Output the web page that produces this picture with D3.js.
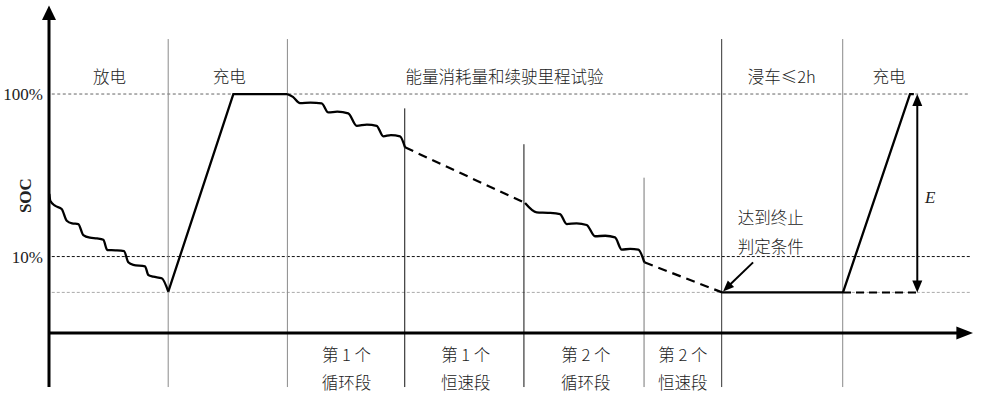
<!DOCTYPE html>
<html><head><meta charset="utf-8">
<script src="https://cdn.jsdelivr.net/npm/d3@7"></script>
<style>
html,body{margin:0;padding:0;background:#fff;}
svg{display:block;}
.cn{font-family:"Noto Sans CJK SC","Noto Sans",sans-serif;font-size:16.5px;fill:#222;font-weight:300;}
.serif{font-family:"Liberation Serif","DejaVu Serif",serif;}
</style></head>
<body>
<svg id="chart" width="981" height="400"></svg>
<script>
// ---- data (schematic units: t = time, v = SOC level) ----
const xDomain = [0, 100];
const yDomain = [-23, 137];
const yTicks = [100, 32];
const yTickLabels = ["100%", "10%"];
const endLevel = 17;             // termination SOC level (grey dotted line)

const phaseBounds = [12.9, 25.8, 38.5, 51.4, 64.4, 72.8, 85.9];
const phaseTops   = [123, 123, 94, 79, 65, 123, 123];
const phaseColors = ["#8a8a8a","#8a8a8a","#111","#111","#777","#333","#8a8a8a"];

const topLabels = ["放电", "充电", "能量消耗量和续驶里程试验", "浸车≤2h", "充电"];
const topLabelT = [6.55, 19.5, 49.3, 79.3, 90.9];

const bottomLine1 = ["第 1 个", "第 1 个", "第 2 个", "第 2 个"];
const bottomLine2 = ["循环段", "恒速段", "循环段", "恒速段"];
const bottomLabelT = [32.2, 45.1, 58.1, 68.6];

// discharge phase (wavy steps)
const dischargeT = [0.03, 0.15, 0.65, 1.37, 1.92, 2.5, 3.17, 3.71, 4.44, 5.2, 5.88, 6.31, 7.2, 8.12, 8.58, 9.12, 10.39, 10.75, 11.29, 12.2, 12.91];
const dischargeV = [58.2, 55.2, 53.3, 51.9, 47.0, 45.9, 45.6, 41.0, 39.9, 39.6, 39.0, 34.7, 34.6, 34.3, 29.6, 28.5, 27.9, 24.3, 23.6, 22.9, 17.3];
// first charge
const charge1T = [12.91, 19.95, 25.76];
const charge1V = [17.3, 100, 100];
// cycle segment 1
const cycle1T = [25.76, 26.4, 27.16, 28.3, 29.51, 30.23, 31.2, 32.39, 33.3, 34.4, 35.46, 36.18, 37.0, 37.99, 38.53];
const cycle1V = [100, 98.8, 96.2, 96.4, 96.1, 92.3, 92.6, 91.9, 86.7, 87.2, 86.7, 82.3, 82.8, 82.3, 77.7];
// constant speed segment 1 (dashed)
const const1T = [38.53, 51.52];
const const1V = [77.7, 54.4];
// cycle segment 2
const cycle2T = [51.52, 52.78, 54.0, 55.3, 56.03, 57.1, 58.19, 59.09, 60.2, 61.26, 61.98, 62.9, 63.78, 64.43];
const cycle2V = [54.4, 50.5, 50.3, 49.8, 45.6, 45.9, 45.2, 40.5, 40.7, 40.0, 34.9, 35.2, 34.9, 29.6];
// constant speed segment 2 (dashed)
const const2T = [64.43, 72.84];
const const2V = [29.6, endLevel];
// soak
const soakT = [72.84, 85.93];
const soakV = [endLevel, endLevel];
// final charge
const charge2T = [85.93, 93.18, 93.6];
const charge2V = [endLevel, 100, 100];
const baseDashT = [85.93, 94.3];
const eArrowT = 93.97;

// ---- drawing ----
const svg = d3.select("#chart");
const x = d3.scaleLinear().domain(xDomain).range([49, 973]);
const y = d3.scaleLinear().domain(yDomain).range([388, 5.6]);

const pts = (T, V) => T.map((t, i) => [t, V[i]]);
const line = d3.line().x(d => x(d[0])).y(d => y(d[1]));
const smooth = d3.line().x(d => x(d[0])).y(d => y(d[1])).curve(d3.curveMonotoneX);

// horizontal reference lines
const refs = [
  {v: yTicks[0], color: "#666", dash: "3,2.5"},
  {v: yTicks[1], color: "#111", dash: "3,2"},
  {v: endLevel, color: "#aaa", dash: "3,2"}
];
svg.selectAll("line.ref").data(refs).join("line")
  .attr("x1", x(0.3)).attr("x2", x(99.7))
  .attr("y1", d => y(d.v)).attr("y2", d => y(d.v))
  .attr("stroke", d => d.color).attr("stroke-width", 1)
  .attr("stroke-dasharray", d => d.dash);

// phase dividers
svg.selectAll("line.div").data(phaseBounds).join("line")
  .attr("x1", d => x(d)).attr("x2", d => x(d))
  .attr("y1", (d, i) => y(phaseTops[i])).attr("y2", y(-22.6))
  .attr("stroke", (d, i) => phaseColors[i]).attr("stroke-width", 1);

// axes
const yAxis = d3.axisLeft(y).tickValues(yTicks).tickSize(0).tickPadding(6)
  .tickFormat((d, i) => yTickLabels[i]);
const ga = svg.append("g").attr("transform", `translate(${x(0)},0)`).call(yAxis);
ga.select(".domain").remove();
ga.selectAll("text").attr("class", "serif").style("font-size", "17px").attr("fill", "#222");

svg.append("line").attr("x1", x(0)).attr("x2", x(0)).attr("y1", y(-22.6)).attr("y2", y(132))
  .attr("stroke", "#000").attr("stroke-width", 3);
svg.append("path").attr("d", `M${x(0)-7},${y(131)} L${x(0)},${y(137)} L${x(0)+7},${y(131)} Z`).attr("fill", "#000");
svg.append("line").attr("x1", x(0)).attr("x2", x(98.5)).attr("y1", y(0)).attr("y2", y(0))
  .attr("stroke", "#000").attr("stroke-width", 3);
svg.append("path").attr("d", `M${x(98.2)},${y(0)-6.5} L${x(100)},${y(0)} L${x(98.2)},${y(0)+6.5} Z`).attr("fill", "#000");

svg.append("text").attr("class", "serif")
  .attr("transform", `translate(31,${y(57.5)}) rotate(-90)`)
  .attr("text-anchor", "middle").style("font-size", "17px").style("font-weight", "bold")
  .attr("fill", "#222").text("SOC");

// curve segments
const solid = [pts(dischargeT, dischargeV), pts(cycle1T, cycle1V), pts(cycle2T, cycle2V)];
svg.selectAll("path.wavy").data(solid).join("path")
  .attr("d", smooth).attr("fill", "none").attr("stroke", "#000").attr("stroke-width", 2.3)
  .attr("stroke-linejoin", "round");
const straight = [pts(charge1T, charge1V), pts(soakT, soakV), pts(charge2T, charge2V)];
svg.selectAll("path.str").data(straight).join("path")
  .attr("d", line).attr("fill", "none").attr("stroke", "#000").attr("stroke-width", 2.3);
const dashed = [pts(const1T, const1V), pts(const2T, const2V)];
svg.selectAll("path.dsh").data(dashed).join("path")
  .attr("d", line).attr("fill", "none").attr("stroke", "#000").attr("stroke-width", 2.2)
  .attr("stroke-dasharray", "9,6");
svg.append("path").attr("d", line(pts(baseDashT, [endLevel, endLevel])))
  .attr("fill", "none").attr("stroke", "#000").attr("stroke-width", 2).attr("stroke-dasharray", "8,5");

// E double arrow
const ex = x(eArrowT);
svg.append("line").attr("x1", ex).attr("x2", ex).attr("y1", y(100) + 10).attr("y2", y(endLevel) - 10)
  .attr("stroke", "#000").attr("stroke-width", 2);
svg.append("path").attr("d", `M${ex-5},${y(100)+12} L${ex},${y(100)} L${ex+5},${y(100)+12} Z`).attr("fill", "#000");
svg.append("path").attr("d", `M${ex-5},${y(endLevel)-12} L${ex},${y(endLevel)} L${ex+5},${y(endLevel)-12} Z`).attr("fill", "#000");
svg.append("text").attr("class", "serif").attr("x", ex + 13).attr("y", y(57) + 6)
  .attr("text-anchor", "middle").style("font-size", "17px").style("font-style", "italic")
  .attr("fill", "#222").text("E");

// top labels
svg.selectAll("text.top").data(topLabels).join("text").attr("class", "cn")
  .attr("x", (d, i) => x(topLabelT[i])).attr("y", 83).attr("text-anchor", "middle").text(d => d);

// bottom labels
svg.selectAll("text.b1").data(bottomLine1).join("text").attr("class", "cn")
  .attr("x", (d, i) => x(bottomLabelT[i])).attr("y", 361).attr("text-anchor", "middle").text(d => d);
svg.selectAll("text.b2").data(bottomLine2).join("text").attr("class", "cn")
  .attr("x", (d, i) => x(bottomLabelT[i])).attr("y", 389).attr("text-anchor", "middle").text(d => d);

// annotation
const annoT = 78.1;
svg.append("text").attr("class", "cn").attr("x", x(annoT)).attr("y", 224).attr("text-anchor", "middle").text("达到终止");
svg.append("text").attr("class", "cn").attr("x", x(annoT)).attr("y", 253).attr("text-anchor", "middle").text("判定条件");
const ax0 = x(76.2), ay0 = y(endLevel) - 30, ax1 = x(72.95), ay1 = y(endLevel) - 1;
const ang = Math.atan2(ay1 - ay0, ax1 - ax0);
svg.append("line").attr("x1", ax0).attr("y1", ay0).attr("x2", ax1 - 8 * Math.cos(ang)).attr("y2", ay1 - 8 * Math.sin(ang))
  .attr("stroke", "#000").attr("stroke-width", 2);
const hl = 11, hw = 4.5;
const bx = ax1 - hl * Math.cos(ang), by = ay1 - hl * Math.sin(ang);
svg.append("path").attr("d",
  `M${ax1},${ay1} L${bx + hw * Math.sin(ang)},${by - hw * Math.cos(ang)} L${bx - hw * Math.sin(ang)},${by + hw * Math.cos(ang)} Z`)
  .attr("fill", "#000");
</script>
</body></html>
